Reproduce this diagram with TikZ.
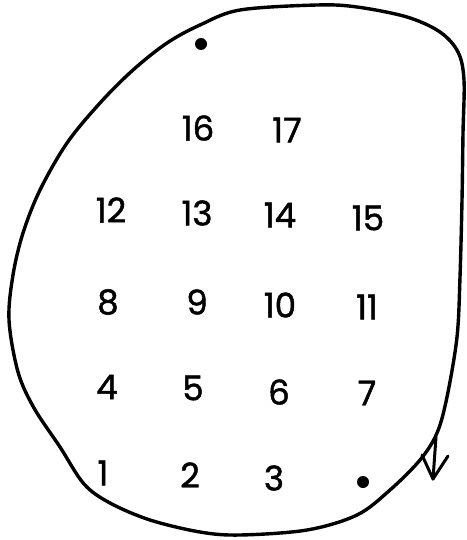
\documentclass[tikz,border=0pt]{standalone}
\usepackage{fontspec}
\newfontfamily\numfont{Poppins}[FakeBold=1.4]
\begin{document}
\begin{tikzpicture}[x=1pt,y=-1pt,
  numlbl/.style={font=\numfont\fontsize{34}{34}\selectfont, inner sep=0pt, anchor=center},
  spot/.style={circle, fill=black, inner sep=0pt, minimum size=12pt},
  outline/.style={line width=3.4pt, line join=round},
  dirarrow/.style={line width=3pt, line cap=round, line join=round}]
\useasboundingbox (0,0) rectangle (466,540);
\draw[outline] plot[smooth cycle, tension=0.55] coordinates {
 (240,10) (317,5) (357,7) (407,17) (440,32) (458,52) (464,80) (463,133) (462,200)
 (460,277) (457,337) (447,397) (437,433) (420,460) (390,490) (357,515) (307,530)
 (240,535) (200,532) (150,520) (110,503) (84,484) (60,447) (34,408) (18,372)
 (9,320) (13,275) (23,233) (40,190) (67,143) (100,103) (133,70) (167,43) (200,25)};
\node[numlbl] (n16) at (198,128) {16};
\node[numlbl] (n17) at (287,130) {17};
\node[numlbl] (n12) at (111,210) {12};
\node[numlbl] (n13) at (197,213) {13};
\node[numlbl] (n14) at (280,215) {14};
\node[numlbl] (n15) at (368,218) {15};
\node[numlbl] (n8) at (108,302) {8};
\node[numlbl] (n9) at (197,302) {9};
\node[numlbl] (n10) at (280,305) {10};
\node[numlbl] (n11) at (367,307) {11};
\node[numlbl] (n4) at (107,387) {4};
\node[numlbl] (n5) at (193,388) {5};
\node[numlbl] (n6) at (279,392) {6};
\node[numlbl] (n7) at (367,393) {7};
\node[numlbl] (n1) at (103,473) {1};
\node[numlbl] (n2) at (190,475) {2};
\node[numlbl] (n3) at (274,478) {3};
\node[spot] (dtop) at (201,44) {};
\node[spot] (dbot) at (363,482) {};
\coordinate (atail) at (436,437);
\coordinate (atip) at (433,479);
\draw[dirarrow] (atail) -- (atip);
\draw[dirarrow] (422,455) -- (atip) -- (448,456);
\end{tikzpicture}
\end{document}
